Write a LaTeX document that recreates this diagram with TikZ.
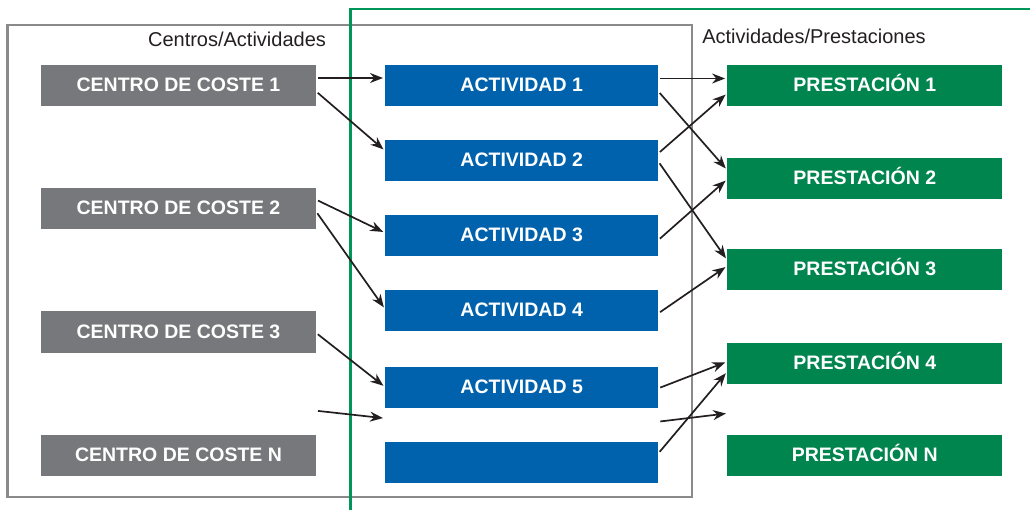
\documentclass[tikz,border=0pt]{standalone}
\usepackage{fontspec}
\setmainfont{Liberation Sans}
\usetikzlibrary{arrows.meta}
\definecolor{costegris}{HTML}{77787B}
\definecolor{actazul}{HTML}{0062AD}
\definecolor{prestverde}{HTML}{00854F}
\definecolor{marcogris}{HTML}{8A8A8C}
\definecolor{marcoverde}{HTML}{00965A}
\definecolor{flecha}{HTML}{231F20}
\tikzstyle{caja} = [minimum width=275pt, minimum height=41pt, inner sep=0pt, text=white,
	font=\fontsize{19.5}{20}\selectfont\bfseries, text height=14pt, text depth=2pt]
\tikzstyle{centro} = [caja, fill=costegris]
\tikzstyle{actividad} = [caja, fill=actazul, minimum width=273pt]
\tikzstyle{prestacion} = [caja, fill=prestverde]
\tikzstyle{titulo} = [text=flecha, font=\fontsize{20}{22}\selectfont, inner sep=0pt]
\tikzstyle{arrow} = [line width=1.7pt, draw=flecha, shorten <=2pt, shorten >=2pt,
	-{Stealth[length=13pt,width=10pt]}]

\begin{document}
\begin{tikzpicture}[x=1pt,y=-1pt]
	\useasboundingbox (0,0) rectangle (1030,510);
	% marcos
	\draw[marcogris, line width=2.6pt] (7.5,25) rectangle (692,497);
	\draw[marcoverde, line width=2.4pt] (350.5,512) -- (350.5,9) -- (1032,9);
	\node[titulo] (tcentros) at (237,39) {Centros/Actividades};
	\node[titulo] (tprest) at (814,36) {Actividades/Prestaciones};
	% centros de coste
	\node[centro] (c1) at (178.5,85.5) {CENTRO DE COSTE 1};
	\node[centro] (c2) at (178.5,208.7) {CENTRO DE COSTE 2};
	\node[centro] (c3) at (178.5,332) {CENTRO DE COSTE 3};
	\node[centro] (cN) at (178.5,455) {CENTRO DE COSTE N};
	% actividades
	\node[actividad] (a1) at (521.7,85.5) {ACTIVIDAD 1};
	\node[actividad] (a2) at (521.7,160.7) {ACTIVIDAD 2};
	\node[actividad] (a3) at (521.7,235.8) {ACTIVIDAD 3};
	\node[actividad] (a4) at (521.7,311) {ACTIVIDAD 4};
	\node[actividad] (a5) at (521.7,387) {ACTIVIDAD 5};
	\node[actividad] (a6) at (521.7,462) {};
	% prestaciones
	\node[prestacion] (p1) at (864.8,85.5) {PRESTACIÓN 1};
	\node[prestacion] (p2) at (864.8,178.3) {PRESTACIÓN 2};
	\node[prestacion] (p3) at (864.8,269.7) {PRESTACIÓN 3};
	\node[prestacion] (p4) at (864.8,363) {PRESTACIÓN 4};
	\node[prestacion] (pN) at (864.8,455) {PRESTACIÓN N};
	\coordinate (f1) at (316,410.7);
	\coordinate (f2) at (385,418.3);
	\coordinate (f3) at (658.3,421.7);
	\coordinate (f4) at (728,413.3);
	% centros -> actividades
	\draw[arrow] ([yshift=7.5pt]c1.east) -- ([yshift=7.5pt]a1.west);
	\draw[arrow] ([yshift=-6pt]c1.east) -- ([yshift=10pt]a2.west);
	\draw[arrow] ([yshift=9pt]c2.east) -- ([yshift=3pt]a3.west);
	\draw[arrow] ([yshift=-3pt]c2.east) -- ([yshift=2pt]a4.west);
	\draw[arrow] ([yshift=-1pt]c3.east) -- (a5.west);
	\draw[arrow] (f1) -- (f2);
	% actividades -> prestaciones
	\draw[arrow] ([yshift=7pt]a1.east) -- ([yshift=7pt]p1.west);
	\draw[arrow] ([yshift=-6pt]a1.east) -- ([yshift=8.3pt]p2.west);
	\draw[arrow] ([yshift=7.4pt]a2.east) -- ([yshift=-7.8pt]p1.west);
	\draw[arrow] ([yshift=-1pt]a2.east) -- ([yshift=9.7pt]p3.west);
	\draw[arrow] ([yshift=-4.2pt]a3.east) -- ([yshift=-1pt]p2.west);
	\draw[arrow] ([yshift=-2.3pt]a4.east) -- ([yshift=3.7pt]p3.west);
	\draw[arrow] ([yshift=-1.3pt]a5.east) -- ([yshift=1.3pt]p4.west);
	\draw[arrow] ([yshift=8.7pt]a6.east) -- ([yshift=-8.7pt]p4.west);
	\draw[arrow] (f3) -- (f4);
\end{tikzpicture}
\end{document}
